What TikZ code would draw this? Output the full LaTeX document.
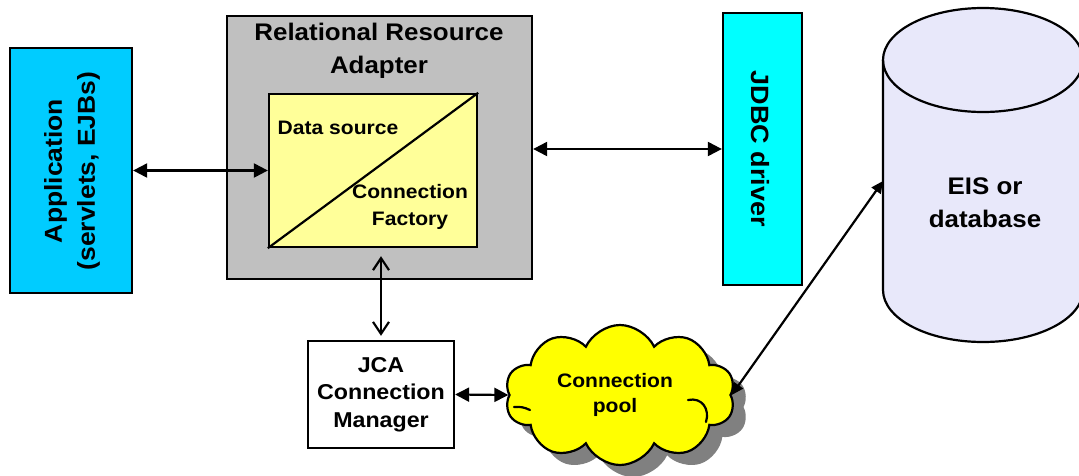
\documentclass[tikz,border=0pt]{standalone}
\usepackage{fontspec}
\setmainfont[FakeStretch=1.08]{Liberation Sans}
\usetikzlibrary{arrows.meta,shapes.symbols}
\definecolor{appblue}{RGB}{0,204,255}
\definecolor{drivercyan}{RGB}{0,255,255}
\definecolor{adaptergray}{RGB}{192,192,192}
\definecolor{factoryyellow}{RGB}{255,255,153}
\definecolor{dblavender}{RGB}{232,232,250}
\definecolor{poolyellow}{RGB}{255,255,0}
\definecolor{poolshade}{RGB}{128,128,128}
\newcommand\txtsize[2]{\fontsize{#1}{#2}\selectfont\bfseries}

\begin{document}
\begin{tikzpicture}[x=1pt,y=-1pt,
  box/.style={draw=black, line width=2.3pt, rectangle, inner sep=0pt},
  lbl/.style={align=center, inner sep=0pt},
  link/.style={line width=2.2pt, {Triangle[length=14pt,width=14pt]}-{Triangle[length=14pt,width=14pt]}},
  smalllink/.style={line width=2.2pt, {Triangle[length=12pt,width=11pt]}-{Triangle[length=12pt,width=11pt]}},
  openlink/.style={line width=2.2pt, {Straight Barb[length=12pt,width=16pt]}-{Straight Barb[length=12pt,width=16pt]}},
  poolshape/.style={cloud, cloud puffs=10, cloud puff arc=130, cloud ignores aspect,
    minimum width=230pt, minimum height=140pt, inner sep=0pt},
  poolline/.style={line width=2.2pt, line cap=round},
]
\useasboundingbox (0,0) rectangle (1079,475);

% application tier
\node[box, fill=appblue, minimum width=122pt, minimum height=245pt] (app) at (71,170.5) {};
\node[lbl, rotate=90, font=\txtsize{24.5}{33}] (apptext) at (72,171) {Application\\(servlets, EJBs)};

% resource adapter with its data source / connection factory
\node[box, fill=adaptergray, minimum width=305pt, minimum height=263pt] (rra) at (379.5,147.5) {};
\node[lbl, font=\txtsize{24}{33}] (rratitle) at (379,51) {Relational Resource\\Adapter};
\node[box, fill=factoryyellow, minimum width=208pt, minimum height=153pt] (factory) at (373,170.5) {};
\draw[line width=2.2pt] (factory.south west) -- (factory.north east);
\node[lbl, font=\txtsize{19.5}{27}] (dstext) at (338,128) {Data source};
\node[lbl, font=\txtsize{19.5}{27}] (cftext) at (410,206.5) {Connection\\Factory};

% driver
\node[box, fill=drivercyan, minimum width=79pt, minimum height=272pt] (jdbc) at (762.5,149) {};
\node[lbl, rotate=-90, font=\txtsize{25}{30}] (jdbctext) at (760,149) {JDBC driver};

% connection manager
\node[box, fill=white, minimum width=146pt, minimum height=107pt, align=center,
  font=\txtsize{21.5}{27.5}] (jca) at (381,394.5) {JCA\\Connection\\Manager};

% connection pool cloud with its shadow
\node[poolshape, fill=poolshade] (poolback) at (633,407) {};
\node[poolshape, draw=black, line width=2.2pt, fill=poolyellow] (pool) at (620,395) {};
% inner fold lines of the cloud
\draw[poolline] (514,407) to[bend left=15] (530,410);
\draw[poolline] (688,400) .. controls (702,397) and (710,409) .. (706,422);
\node[lbl, font=\txtsize{19.5}{25}] (pooltext) at (615,395) {Connection\\pool};

% EIS / database cylinder
\path[fill=dblavender] (883,60) -- (883,290)
  arc[start angle=180, end angle=0, x radius=100, y radius=52] -- (1083,60)
  arc[start angle=0, end angle=-180, x radius=100, y radius=52] -- cycle;
\draw[line width=2.2pt] (983,60) ellipse[x radius=100, y radius=52];
\draw[line width=2.2pt] (883,60) -- (883,290)
  arc[start angle=180, end angle=0, x radius=100, y radius=52] -- (1083,60);
\node[lbl, font=\txtsize{24}{33}] (eis) at (985,203) {EIS or\\database};
\coordinate (dbport) at (883,181);

% connectors
\draw[link] (app.east) -- (factory.west);
\draw[link] (rra.east |- jdbc.west) -- (jdbc.west);
\draw[openlink, shorten <=8pt, shorten >=4pt] (factory.south -| jca.north) -- (jca.north);
\draw[link] (jca.east) -- (pool.west);
\draw[smalllink] (pool.east) -- (dbport);
\end{tikzpicture}
\end{document}
